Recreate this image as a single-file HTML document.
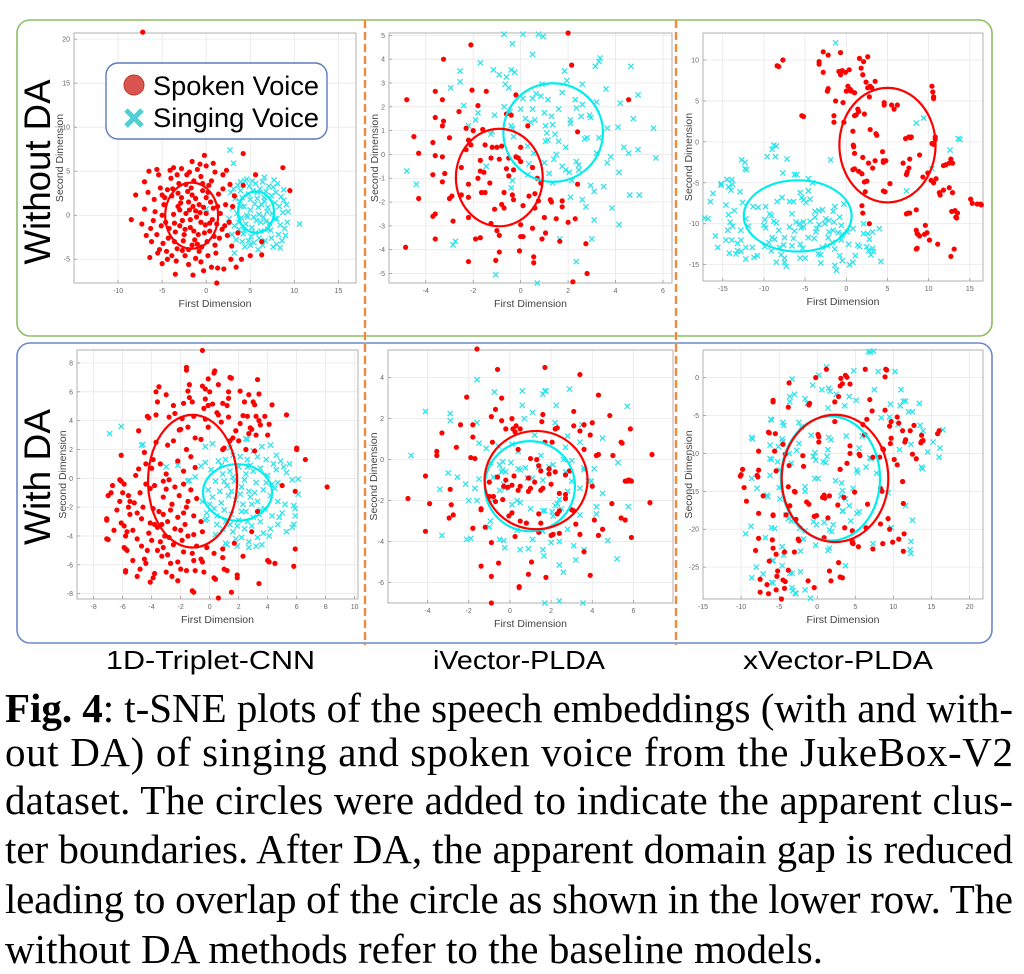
<!DOCTYPE html>
<html><head><meta charset="utf-8"><style>
html,body{margin:0;padding:0;background:#fff;}
svg{display:block;}
</style></head><body>
<svg id="fig" width="1024" height="974" viewBox="0 0 1024 974" xmlns="http://www.w3.org/2000/svg">
<rect x="0" y="0" width="1024" height="974" fill="#fff"/>
<rect x="17" y="20" width="975" height="316" rx="13" fill="none" stroke="#8cc063" stroke-width="1.6"/>
<rect x="17" y="343" width="975" height="300" rx="13" fill="none" stroke="#6b88c8" stroke-width="1.6"/>
<line x1="365" y1="20" x2="365" y2="645" stroke="#f08a3c" stroke-width="2.4" stroke-dasharray="8,4"/>
<line x1="676" y1="20" x2="676" y2="645" stroke="#f08a3c" stroke-width="2.4" stroke-dasharray="8,4"/>
<g id="panels"></g>
<text transform="translate(50,172) rotate(-90)" text-anchor="middle" font-family="'Liberation Sans', sans-serif" font-size="37" textLength="185" lengthAdjust="spacingAndGlyphs" fill="#000">Without DA</text>
<text transform="translate(50,477) rotate(-90)" text-anchor="middle" font-family="'Liberation Sans', sans-serif" font-size="37" textLength="136" lengthAdjust="spacingAndGlyphs" fill="#000">With DA</text>
<g id="legend">
<rect x="106" y="63" width="221" height="76" rx="12" fill="#fff" fill-opacity="0.85" stroke="#5b7bbd" stroke-width="1.4"/>
<circle cx="134" cy="85" r="10" fill="#d9534f" stroke="#c0392b" stroke-width="1"/>
<path d="M126,110 L142,126 M142,110 L126,126" stroke="#4fd0d6" stroke-width="5"/>
<text x="153" y="95" font-family="'Liberation Sans', sans-serif" font-size="27" textLength="166" lengthAdjust="spacingAndGlyphs">Spoken Voice</text>
<text x="153" y="127" font-family="'Liberation Sans', sans-serif" font-size="27" textLength="166" lengthAdjust="spacingAndGlyphs">Singing Voice</text>
</g>
<g font-family="'Liberation Sans', sans-serif" font-size="26" fill="#000">
<text x="106" y="669" textLength="209" lengthAdjust="spacingAndGlyphs">1D-Triplet-CNN</text>
<text x="433" y="669" textLength="172" lengthAdjust="spacingAndGlyphs">iVector-PLDA</text>
<text x="743" y="669" textLength="190" lengthAdjust="spacingAndGlyphs">xVector-PLDA</text>
</g>
<g font-family="'Liberation Serif', 'Times New Roman', serif" font-size="41" fill="#000">
<text x="5" y="722" textLength="1008" lengthAdjust="spacing"><tspan font-weight="bold">Fig. 4</tspan>: t-SNE plots of the speech embeddings (with and with-</text>
<text x="5" y="766" textLength="1008" lengthAdjust="spacing">out DA) of singing and spoken voice from the JukeBox-V2</text>
<text x="5" y="814" textLength="1008" lengthAdjust="spacing">dataset. The circles were added to indicate the apparent clus-</text>
<text x="5" y="863" textLength="1008" lengthAdjust="spacing">ter boundaries. After DA, the apparent domain gap is reduced</text>
<text x="5" y="913" textLength="1008" lengthAdjust="spacing">leading to overlap of the circle as shown in the lower row. The</text>
<text x="5" y="963" textLength="818" lengthAdjust="spacing">without DA methods refer to the baseline models.</text>
</g>
</svg>
<script>
// ---------- data ----------
const aSpoken=[[-7.2,20.8],[-8.5,-0.5],[-8,2.3],[-7,0.7],[-7,3.8],[-6.5,5],[-6.6,2.6],[-6.3,-1.5],[-6.2,-3],[-6.4,-4.8],[-5.5,-4.3],[-5,-5.5],[-3.5,-6.7],[-1.5,-6.8],[-0.3,-6.3],[1.2,-7.7],[1.3,-6],[2,-6.1],[3.4,-5.9],[4,-5],[5,-4.6],[6.3,-4.5],[6.3,-3],[4.2,7],[8.7,5.4],[9.5,2.8],[2.4,-2.3],[2.7,3.5],[1.9,4.6],[-0.2,6.8],[-1.6,6.1],[0,5.6],[-3.7,5.4],[-5.2,3.1],[-4.8,1.2],[-4.6,-0.8],[-4.3,-2.6],[-4,4.2],[-3.9,2.2],[-3.7,0.1],[-3.5,-1.9],[-3.3,-3.8],[-3.1,3.6],[-2.9,1.4],[-2.7,-0.6],[-2.6,-2.9],[-2.4,-4.6],[-2.2,4.6],[-2.1,2.7],[-1.9,0.6],[-1.8,-1.4],[-1.6,-3.4],[-1.4,3.9],[-1.2,1.9],[-1.1,-0.2],[-0.9,-2.2],[-0.8,-4.1],[-0.6,4.4],[-0.4,2.8],[-0.3,0.9],[-0.1,-1.1],[0.1,-3.0],[0.3,3.4],[0.5,1.5],[0.7,-0.5],[0.9,-2.4],[1.1,-4.3],[1.4,2.4],[1.6,0.2],[1.8,-1.6],[-5.6,-2.2],[-5.8,0.4],[-5.4,4.6],[-4.5,-4.1],[-3.4,-5.2],[-2,-5.6],[-0.6,-5.3],[0.6,-5.9],[-4.1,5.1],[-2.8,5.3],[-1,5.2],[1,4.9],[2.2,1.2],[2.6,-0.8],[2.9,-3.5],[3.2,2.2],[-3.2,2.5],[-2.4,-1.6],[-1.5,1],[-0.5,-3.6],[0.4,-1.8],[-4.9,-3.2],[-5.9,1.8],[-3.0,0.6],[-1.3,-2.8],[0.0,2.0],[-2.0,-3.9],[-4.4,2.9],[-3.6,-0.9],[-2.3,0.2],[-0.7,0.3],[1.2,-1.0],[-5.1,-1.2],[-1.7,3.1],[0.2,-4.6],
[-5.0,0.0],[-4.7,2.0],[-4.2,-1.5],[-3.8,3.0],[-3.6,-3.0],[-3.2,1.0],[-3.0,-1.2],[-2.8,2.0],[-2.5,-2.2],[-2.3,3.5],[-2.0,1.5],[-1.8,-0.5],[-1.6,2.3],[-1.4,-1.8],[-1.2,0.5],[-1.0,-3.3],[-0.8,1.2],[-0.6,-0.8],[-0.4,3.6],[-0.2,-2.0],[0.0,0.2],[0.2,2.6],[0.4,-0.9],[0.6,3.9],[0.8,0.8],[1.0,-3.4],[1.3,1.0],[1.5,-2.6],[1.9,3.0],[2.1,-1.2],[-4.4,-5.0],[-5.3,-3.9],[-6.0,-0.6],[-5.0,2.3],[-3.3,4.6],[-1.9,4.9],[-0.7,5.8],[0.8,5.9],[2.3,5.1],[2.8,-5.0],[-1.2,-4.9],[-2.7,-4.0],[-3.9,-4.6],[3.6,-2.0],[3.0,1.0],[-6.8,-2.3],[-7.3,-1.0],[-5.6,5.2],[4.2,3.4],[5.6,4.6]];
const aSinging=[[2.7,7.4],[3.1,5.9],[10.6,-1],[3.2,-4.3],[8.4,-3.7],[0,0.7],[2.8,2.6],[3.0,0.8],[3.2,-1.2],[3.4,-2.8],[3.6,3.4],[3.8,1.6],[4.0,-0.3],[4.2,-2.1],[4.4,-3.6],[4.6,4.1],[4.8,2.4],[5.0,0.6],[5.2,-1.4],[5.4,-3.1],[5.6,3.6],[5.8,1.9],[6.0,0.1],[6.2,-1.8],[6.4,-3.4],[6.6,4.3],[6.8,2.7],[7.0,0.9],[7.2,-0.9],[7.4,-2.6],[7.6,3.2],[7.8,1.4],[8.0,-0.4],[8.2,-2.2],[8.5,2.1],[8.7,0.3],[8.9,-1.5],[9.1,1.2],[9.2,-0.8],[4.3,1.0],[5.3,2.8],[6.3,1.2],[7.3,-1.7],[5.1,-2.4],[6.7,-2.9],[4.9,3.3],[3.5,0.2],[6.1,3.0],[7.9,2.6],[8.4,-1.1],[5.7,-0.6],[4.5,-1.0],[6.9,0.4],[7.7,4.0],[3.9,2.8],[2.6,-0.4],[5.9,-3.9],[8.1,3.6],[9.0,-2.3],[4.1,-3.0],[6.5,-0.2],[5.5,1.3],[4.7,-0.2],[6.6,2.0],[7.5,0.2],[5.0,-3.4],[3.7,-1.6],[8.8,1.7],[6.0,-2.6],[4.4,3.9],
[3.3,1.9],[3.7,-0.8],[4.1,2.0],[4.6,0.0],[5.0,1.8],[5.4,-0.2],[5.8,2.6],[6.2,-0.8],[6.6,1.6],[7.0,-1.6],[7.4,2.2],[7.8,-0.4],[8.3,1.0],[8.6,-2.9],[3.9,3.8],[4.8,-2.9],[5.6,-2.0],[6.4,3.8],[7.1,3.3],[8.0,-3.3],[2.9,-2.2],[3.1,3.0],[9.3,0.4],[7.6,-3.6],[4.3,-1.7],[5.9,0.9],[6.8,-0.7],[5.2,3.9],[4.0,1.0],[8.8,2.9]];
const bSpoken=[[-4.8,2.3],[-4.5,0.75],[-4.3,0.05],[-4.3,-1.85],[-4.85,-3.9],[-3.6,2.65],[-3.6,1.55],[-3.25,4.0],[-3.3,2.3],[-3.3,1.2],[-3.25,1.4],[-3.0,0.7],[-3.7,0.5],[-3.6,-0.05],[-3.3,-0.1],[-3.7,-0.85],[-3.2,-0.8],[-3.3,-1.15],[-2.9,-1.75],[-3.0,-1.85],[-3.6,-2.5],[-3.7,-2.6],[-2.85,-2.8],[-3.6,-3.55],[-2.6,1.8],[-2.1,4.6],[-2.05,2.7],[-1.45,2.65],[-1.8,2.05],[-2.3,1.1],[-2.0,1.0],[-2.2,0.6],[-2.3,0.2],[-2.1,0.4],[-2.5,-0.55],[-2.2,-1.25],[-2.5,-1.7],[-2.2,-1.8],[-2.2,-2.65],[-1.9,-3.55],[-1.7,-3.5],[-2.2,-4.5],[-1.6,1.05],[-1.5,0.4],[-1.7,-0.25],[-1.7,-0.7],[-1.55,-0.75],[-1.8,-1.0],[-1.65,-1.6],[-1.5,-1.6],[-1.3,-1.2],[-1.25,-0.15],[-1.2,0.3],[-1.0,0.3],[-0.9,-0.2],[-0.8,0.35],[-1.1,-2.3],[-1.25,-2.9],[-1.0,-3.2],[-0.9,-3.4],[-1.05,-4.45],[-0.9,-4.1],[-0.6,1.7],[-0.4,1.65],[-0.5,-0.15],[-0.6,-0.6],[-0.5,-0.9],[-0.7,-1.6],[-0.8,-2.1],[-0.7,-2.25],[-0.35,-1.7],[-0.3,-1.9],[-0.3,-0.65],[-0.2,-0.1],[-0.1,-0.15],[-0.2,2.5],[0.0,-0.3],[0.0,0.3],[0.1,-2.15],[0.0,-2.95],[0.0,-3.45],[0.1,-3.45],[-0.05,-4.05],[0.55,-4.3],[0.55,-4.55],[0.5,-3.1],[0.6,-1.65],[0.35,-1.75],[0.6,-2.25],[0.3,1.2],[0.5,-0.55],[0.7,-1.0],[0.75,-1.95],[0.85,-1.2],[1.0,-2.65],[0.9,-3.55],[1.05,-3.3],[1.25,-1.9],[1.3,-2.0],[1.5,-2.7],[1.65,-3.65],[1.75,-1.95],[1.75,-2.2],[2.0,-2.85],[2.3,-2.7],[2.4,-1.25],[2.4,0.95],[2.15,3.75],[2.0,5.1],[2.75,-3.75],[2.8,-5.0],[2.2,-5.35],[4.55,2.3]];
const bSinging=[[-4.8,-0.7],[-4.4,-1.25],[-2.95,2.8],[-2.55,3.5],[-2.55,3.05],[-2.4,2.05],[-2.75,-3.65],[-2.85,-3.8],[-2.2,1.2],[-1.9,1.45],[-1.7,3.85],[-1.8,1.75],[-1.15,3.55],[-1.25,0.85],[-1.2,0.95],[-1.1,1.65],[-1.45,-0.5],[-1.05,-5.05],[-0.9,3.35],[-0.7,2.0],[-0.6,3.25],[-0.65,2.95],[-0.5,2.8],[-0.4,3.55],[-0.35,4.65],[-0.25,3.45],[-0.45,1.8],[-0.4,1.2],[-0.35,1.1],[-0.3,0.75],[-0.35,-1.1],[-0.4,-1.4],[-0.7,5.05],[0.1,5.05],[0.0,1.9],[0.1,2.35],[0.2,1.5],[0.3,0.35],[0.35,-0.4],[0.3,-0.85],[0.5,4.2],[0.5,2.35],[0.5,1.9],[0.6,1.45],[0.4,1.35],[0.55,0.05],[0.65,2.55],[0.75,5.05],[0.95,4.95],[0.85,2.45],[0.7,-5.4],[0.9,2.95],[1.0,1.75],[1.05,1.2],[1.15,2.3],[1.1,0.9],[1.05,0.55],[1.15,0.6],[1.0,-0.35],[1.2,-0.8],[1.3,1.6],[1.35,1.25],[1.45,0.85],[1.4,-0.2],[1.5,0.0],[1.35,-1.2],[1.6,1.9],[1.6,0.55],[1.75,2.6],[1.85,3.5],[1.95,3.1],[1.75,-0.5],[1.9,0.3],[1.9,-0.65],[2.1,1.45],[2.1,1.3],[2.05,-0.75],[2.15,-1.1],[2.3,2.3],[2.35,1.95],[2.35,-0.3],[2.45,-0.45],[2.45,-0.65],[2.6,2.95],[2.6,2.1],[2.55,1.6],[2.7,0.65],[2.8,0.7],[2.9,1.65],[2.95,1.55],[2.95,-1.3],[3.1,-1.55],[3.3,3.9],[3.15,3.7],[3.2,2.2],[3.35,4.05],[3.2,0.05],[3.3,0.7],[3.5,-1.35],[3.6,2.75],[3.65,1.1],[3.65,-0.35],[3.8,-0.1],[3.85,-2.25],[3.1,-2.75],[3.0,-3.55],[2.75,-2.2],[2.35,-4.5],[2.1,-1.8],[2.6,-1.9],[4.1,1.15],[4.2,2.15],[4.15,-0.75],[4.15,-2.95],[4.35,0.3],[4.55,0.05],[4.65,3.7],[4.75,1.5],[4.6,-1.7],[4.95,2.5],[4.95,0.2],[5.0,-1.7],[5.6,1.1],[5.7,-0.15],[1.65,-3.55]];
const cSpoken=[[-7.7,10],[-8.2,9.2],[-8.4,9.3],[-5.4,3.2],[-5.2,3.1],[-3.3,9.8],[-3.3,9.5],[-2.8,11],[-2.8,8.5],[-2.2,10.6],[-2.3,6.2],[-2.2,6.5],[-1.5,3.2],[-1.5,2.4],[-1.3,5],[-0.9,8.6],[-0.7,8.2],[-0.7,10.9],[-0.5,8.7],[-0.4,4.8],[-0.3,2.4],[-0.1,8.5],[0.0,6.2],[0.2,6.8],[0.35,8.8],[0.4,6.3],[0.5,6.4],[0.6,6.2],[1.0,6.0],[1.0,3.2],[1.2,3.3],[0.8,1.3],[0.85,-0.4],[0.9,-0.6],[1.0,-1.4],[1.4,4.0],[1.5,3.7],[1.6,10.2],[1.8,9.0],[2.0,8.2],[2.1,9.8],[2.2,3.4],[2.4,7.3],[2.6,10.4],[2.6,6.6],[2.8,5.5],[2.9,6.8],[3.1,6.6],[3.5,7.4],[2.9,1.5],[2.7,-2.6],[2.0,-1.9],[1.9,-3.9],[1.5,-3.6],[1.0,-3.3],[0.8,-3.4],[2.2,-4.9],[2.5,-4.8],[2.3,-6.1],[1.9,-7.8],[2.0,-8.7],[2.8,-10],[3.2,-3.2],[3.6,1.0],[3.7,0.8],[3.5,-2.3],[4.4,-1.2],[4.5,-2.3],[4.5,-2.5],[4.8,-2.3],[4.6,4.5],[4.6,4.8],[4.5,-6.0],[4.7,-6.1],[5.3,-5.1],[5.5,4.5],[5.8,4.0],[6.2,4.5],[6.9,-2.6],[7.2,0.4],[7.3,-4.0],[7.4,-3.7],[7.6,-3.2],[7.6,0.6],[7.8,0.5],[7.9,0.6],[7.7,-2.1],[7.3,-8.8],[7.5,-8.7],[7.7,-8.7],[8.5,-8.3],[8.5,-10.8],[8.6,-11.2],[8.7,-11.3],[8.9,-11.5],[8.6,-13.0],[8.5,-13.1],[8.9,-1.6],[9.3,-4.3],[9.6,-10.2],[9.5,-11.3],[9.8,-11.1],[10.1,-12.0],[9.9,-3.8],[10.3,-4.7],[10.4,-0.2],[10.6,-0.3],[10.4,6.8],[10.5,6.1],[10.6,5.5],[10.6,5.3],[10.8,0.3],[10.8,0.6],[10.9,-4.5],[10.6,-5.0],[11.1,-12.5],[11.3,-6.2],[11.4,-6.5],[11.8,-5.9],[11.8,-2.9],[12.1,-2.8],[12.5,-2.6],[12.7,-2.1],[12.9,-2.6],[12.5,-5.6],[12.9,-6.2],[12.8,-8.5],[13.2,-8.4],[13.5,-8.7],[13.3,-9.2],[13.4,-9.3],[13.1,-13.1],[12.7,-14],[15.1,-7.0],[15.3,-7.5],[15.9,-7.6],[16.3,-7.6],[16.4,-7.7]];
const cSinging=[[-1.3,12.1],[-8.8,-0.4],[-8.5,-0.5],[-9,-0.9],[-9.6,-1.8],[-8.6,-1.8],[-7.2,-2.1],[-12.7,-2.2],[-12.3,-2.5],[-12.3,-3.3],[-12.1,-3.4],[-15.2,-5.1],[-15.2,-5.3],[-14.5,-4.6],[-13.9,-4.6],[-13.8,-5.2],[-14.3,-5.5],[-14.0,-5.9],[-12.9,-6.1],[-16.2,-6.3],[-16.5,-7.3],[-14.6,-7.7],[-12.6,-7.4],[-13.6,-8.4],[-14.3,-8.9],[-17.2,-9.3],[-16.8,-9.4],[-14.1,-9.8],[-13.8,-10.3],[-12.2,-9.4],[-11.3,-7.9],[-10.7,-8.0],[-9.8,-7.9],[-9.9,-9.5],[-9.3,-8.8],[-10.0,-10.2],[-9.8,-10.5],[-11.9,-10.3],[-12.8,-10.8],[-14.4,-10.8],[-13.9,-12],[-14.6,-12],[-15.9,-11.5],[-15.6,-12.9],[-12.8,-12.0],[-13.2,-12.4],[-12.2,-12.9],[-11.4,-12.9],[-10.8,-13.9],[-11.2,-14.1],[-12.2,-14.3],[-12.8,-13.4],[-13.2,-13.3],[-14.2,-13.6],[-13.4,-13.7],[-9.9,-12.8],[-9.4,-12.3],[-8.7,-11.9],[-9.0,-11.7],[-9.1,-13.3],[-8.1,-12.9],[-7.9,-13.8],[-8.5,-14.7],[-7.5,-14.2],[-7.3,-15.2],[-7.5,-14.7],[-8.2,-10.8],[-8.8,-9.7],[-8.5,-9.9],[-9.1,-9.0],[-8.4,-7.3],[-7.8,-6.8],[-7.7,-3.8],[-6.3,-4.0],[-6.0,-4.0],[-6.9,-7.3],[-6.4,-7.3],[-5.6,-6.2],[-5.4,-6.8],[-4.6,-6.0],[-4.1,-5.0],[-4.6,-4.5],[-5.2,-7.1],[-4.9,-7.4],[-4.4,-7.0],[-6.6,-8.8],[-6.1,-9.8],[-5.7,-10.0],[-5.5,-10.5],[-5.2,-9.8],[-5.2,-10.4],[-6.3,-10.9],[-6.9,-10.4],[-6.4,-11.8],[-7.5,-11.7],[-7.6,-12.6],[-6.6,-12.7],[-5.6,-12.5],[-5.3,-13.0],[-5.6,-14.2],[-5.0,-14.2],[-4.6,-11.7],[-3.9,-11.8],[-3.7,-11.0],[-4.4,-9.7],[-3.8,-9.2],[-3.8,-8.5],[-3.3,-8.4],[-2.9,-8.3],[-3.6,-10.6],[-3.3,-10.1],[-2.6,-10.0],[-2.5,-9.4],[-2.1,-9.6],[-2.2,-11.7],[-2.3,-12.7],[-3.4,-13.7],[-3.1,-13.8],[-2.9,-12.9],[-3.1,-14.8],[-2.1,-11.0],[-1.6,-10.8],[-1.6,-8.5],[-1.5,-9.8],[-1.4,-7.9],[-0.8,-9.2],[-0.6,-10.2],[-0.5,-11.3],[-1.0,-11.1],[-0.6,-12.0],[-1.4,-13.1],[-1.7,-12.3],[-0.8,-13.9],[-1.4,-15.1],[-1.2,-15.7],[-0.5,-14.5],[0.1,-11.0],[0.3,-12.5],[0.8,-14.7],[0.4,-15.0],[0.8,-10.6],[1.1,-13.9],[1.4,-12.6],[2.1,-10.0],[2.1,-11.2],[2.6,-11.2],[2.8,-11.9],[2.5,-12.8],[2.7,-13.3],[3.2,-13.0],[3.3,-13.4],[3.0,-13.8],[3.2,-11.0],[4.0,-10.6],[4.2,-14.6],[1.6,-12.8],[-1.9,-2.2],[-0.3,-7.6],[8.5,2.3],[9.4,2.9],[7.3,-6.0],[12.6,-1.0],[13.6,0.4],[13.8,0.3],[10.4,-3.3]];
const dSpoken=[[-0.5,8.87],[-1.6,7.7],[-1.6,7.5],[0.3,7.3],[0.35,7.45],[1.4,7.0],[1.5,6.95],[-1.4,6.5],[-0.5,6.4],[-0.3,6.2],[-0.1,6.9],[0.6,6.5],[1.3,6.0],[2.1,6.05],[3.3,6.85],[3.4,5.85],[-3.5,6.35],[-3.7,6.0],[-1.5,6.05],[-1.4,5.6],[-1.2,5.3],[-0.3,5.5],[-1.8,5.2],[-3.6,5.3],[-2.5,5.05],[-0.1,5.05],[0.2,5.15],[0.9,5.2],[1.3,5.55],[1.2,5.05],[2.4,5.3],[3.0,5.3],[3.1,5.1],[4.3,5.1],[-3.7,4.4],[-2.8,4.25],[-1.9,4.15],[-1.1,4.3],[-0.4,4.85],[0.5,4.55],[0.6,4.4],[1.3,4.25],[2.3,4.35],[2.6,4.3],[3.2,4.3],[3.8,4.3],[3.4,4.0],[3.5,3.7],[2.8,3.5],[2.1,3.8],[1.8,3.3],[4.1,3.75],[5.3,4.4],[-4.3,4.3],[-4.2,4.2],[-2.1,3.35],[-2.0,3.4],[-1.5,3.55],[-0.1,3.55],[0.8,3.9],[2.9,3.4],[4.0,3.0],[2.7,3.1],[3.2,3.0],[1.6,2.8],[-2.9,2.3],[-1.6,2.0],[-0.6,2.7],[-1.0,2.8],[0.9,2.0],[1.0,2.1],[2.5,2.0],[3.1,1.9],[-6.1,1.6],[-3.9,1.3],[-3.4,1.0],[-2.2,1.2],[-1.3,1.5],[-1.0,0.75],[-4.9,0.65],[-4.0,0.7],[-3.0,0.3],[-3.2,-0.2],[-2.4,-0.6],[-1.8,-0.4],[-6.2,-0.1],[-6.1,-0.2],[-5.9,-0.4],[-4.4,-0.4],[-4.1,-0.7],[-3.0,-0.75],[-6.8,-1.0],[-7.0,-1.2],[-6.0,-1.0],[-5.6,-1.2],[-6.2,-1.6],[-5.5,-1.6],[-5.2,-1.7],[-5.6,-2.0],[-3.2,-1.3],[-2.6,-1.8],[-2.1,-1.2],[-1.5,-1.6],[-0.9,-1.4],[-4.6,-2.0],[-3.9,-2.1],[-3.5,-2.3],[-2.7,-2.2],[-2.2,-2.7],[-1.8,-2.4],[-1.1,-2.6],[-6.4,-2.2],[-5.5,-2.5],[-5.0,-2.4],[-7.1,-2.8],[-7.1,-2.9],[-6.1,-3.1],[-5.9,-3.3],[-4.7,-2.8],[-4.1,-3.1],[-3.8,-3.2],[-3.3,-3.2],[-2.9,-3.0],[-2.4,-3.5],[-1.7,-3.2],[-0.5,-3.7],[-5.7,-3.7],[-5.3,-3.6],[-4.2,-3.8],[-3.6,-3.4],[-3.1,-4.0],[-1.5,-4.0],[-1.1,-3.9],[-7.1,-4.2],[-7.0,-4.25],[-5.8,-4.0],[-5.0,-4.2],[-4.0,-4.3],[-3.4,-4.4],[-2.5,-4.6],[-1.9,-4.3],[-0.9,-4.7],[-0.2,-4.8],[-5.9,-4.8],[-5.8,-4.9],[-4.7,-4.7],[-4.3,-5.0],[-3.2,-4.8],[-2.9,-5.3],[-1.8,-5.1],[-1.2,-5.2],[-0.6,-5.6],[-5.7,-5.0],[-4.5,-5.6],[-4.4,-5.9],[-3.3,-5.4],[-2.7,-5.9],[-2.2,-5.8],[-1.1,-5.7],[-0.5,-5.8],[0.9,-5.5],[2.3,-5.4],[4.1,-5.8],[4.5,-5.9],[5.9,-4.9],[5.8,-6.1],[-5.8,-6.4],[-5.8,-6.5],[-4.8,-6.3],[-3.8,-6.6],[-3.9,-6.9],[-3.0,-6.5],[-2.0,-6.3],[-1.6,-6.4],[-1.0,-6.4],[0.3,-6.9],[0.4,-7.0],[1.0,-6.3],[1.2,-6.4],[1.9,-6.7],[1.9,-6.9],[-5.0,-6.8],[-2.2,-7.1],[-1.2,-7.8],[-1.1,-7.9],[0.6,-8.3],[1.5,-7.9],[3.4,-7.3],[6.0,2.1],[6.0,2.0],[6.6,1.3],[5.9,-0.9],[5.0,-0.5],[8.1,-0.6],[3.3,-2.3],[2.9,-3.7],[4.0,-5.7],[1.7,-4.5],[0.9,-4.9],[-3.2,-2.5],
[-4.5,1.8],[-3.7,2.5],[-2.5,2.6],[-1.8,0.5],[-2.8,-0.1],[-3.8,-0.5],[-4.8,-1.0],[-4.4,1.0],[-2.0,-3.6],[-2.8,-4.1],[-3.6,-5.0],[-1.6,-2.0],[-0.6,-3.0],[0.3,-5.2],[-0.4,-6.5],[-2.6,-6.8],[-4.1,-7.2],[1.4,2.6],[2.0,2.6],[-0.3,4.1],[-2.4,4.5],[-3.0,5.8],[2.7,5.8],[0.0,6.0],[-4.9,3.3],[-5.3,-5.7],[-6.6,-3.6],[-6.7,-0.5],[-5.1,0.2],[-1.3,-0.8]];
const dSinging=[[-6.9,3.1],[-6.1,3.6],[-4.7,2.3],[-4.6,2.35],[-3.0,0.8],[-2.2,0.9],[-1.5,-0.2],[-1.4,-0.15],[-1,0.1],[-0.3,2.2],[-0.6,0.85],[-0.3,1.1],[0.6,1.2],[1.1,1.3],[1.6,1.6],[2.1,1.5],[2.6,2.7],[2.5,2.75],[3.6,2.2],[4.2,2.3],[3.3,1.5],[2.6,1.3],[4.6,1.6],[4.9,1.2],[5.1,0.8],[5.3,0.4],[5.7,-0.1],[6.1,-0.05],[4.7,-0.3],[4.5,-0.7],[4.0,0.2],[3.5,0.7],[3.0,0.5],[2.5,0.3],[2.0,0.8],[1.4,0.5],[0.9,0.3],[0.4,-0.2],[-0.1,-0.8],[0.2,-1.3],[0.7,-0.9],[1.2,-0.5],[1.7,-0.2],[2.2,-0.6],[2.7,-0.9],[3.2,-0.3],[3.7,-0.8],[4.2,-1.2],[4.7,-1.6],[5.2,-1.8],[5.8,-1.9],[6.1,-1.1],[5.9,-2.6],[5.8,-3.2],[5.7,-3.4],[5.3,-3.7],[4.7,-3.2],[4.3,-2.6],[3.8,-2.1],[3.3,-1.6],[2.8,-1.3],[2.3,-1.8],[1.8,-1.5],[1.3,-1.2],[0.8,-1.7],[0.3,-2.1],[-0.2,-2.4],[-0.3,-2.9],[-0.2,-2.8],[0.5,-2.6],[1.0,-2.2],[1.5,-2.5],[2.0,-2.9],[2.5,-2.3],[3.0,-2.7],[3.5,-3.0],[3.7,-3.8],[4.2,-3.5],[4.1,-4.0],[3.3,-4.1],[3.2,-4.7],[3.6,-4.6],[2.7,-4.4],[2.2,-4.1],[1.9,-4.7],[1.2,-4.6],[1.1,-4.5],[1.6,-3.7],[0.9,-3.5],[0.4,-3.9],[1.4,-3.2],[2.4,-3.5],[2.9,-3.3],[1.9,-3.3],[3.5,-2.2],[2.1,-1.1],[1.6,0.1],[0.1,0.6],[0.2,2.4],[1.4,2.1],[2.8,0.9],[3.9,1.3],[4.3,-0.4],[2.6,-3.0],[2.9,-1.8],[1.0,-0.2],[-0.5,-1.6],[5.0,-2.4],[4.6,0.6],
[0.8,0.9],[1.5,-0.9],[2.4,-0.1],[3.1,-1.0],[3.9,-0.3],[4.4,1.0],[2.2,-2.3],[3.4,-2.5],[4.8,-2.7],[1.1,-3.0],[0.0,-1.8],[2.6,0.8],[5.5,1.0],[5.9,-2.1],[1.8,-4.2],[3.0,1.9],[0.5,-3.2],[2.7,-4.8]];
const eSpoken=[[-1.6,5.4],[-0.6,4.4],[1.7,4.5],[3.4,4.15],[-2.1,3.05],[-0.4,3.0],[4.3,3.15],[-0.7,2.45],[-0.9,2.1],[-0.4,1.9],[0.1,2.0],[0.3,1.65],[0.5,1.5],[1.6,2.2],[1.55,1.85],[3.1,2.35],[3.1,1.65],[4.85,2.15],[-3.3,1.3],[-2.4,1.7],[-1.8,1.7],[-1.8,1.1],[-0.2,1.5],[0.25,1.35],[0.15,1.5],[2.2,1.5],[2.3,1.55],[3.4,1.4],[3.6,1.7],[3.9,1.2],[4.0,1.8],[-3.55,0.4],[-3.55,0.2],[-2.6,0.6],[-1.9,0.1],[-1.7,0.05],[-0.85,0.85],[0.4,0.5],[1.0,0.05],[1.3,0.0],[1.7,0.85],[2.05,0.85],[3.6,0.5],[5.4,0.85],[5.45,0.8],[5.0,0.2],[4.2,0.2],[4.3,0.25],[6.9,0.25],[5.85,1.5],[-4.1,-0.8],[-0.6,-0.85],[-1.0,-1.1],[-0.2,-1.0],[0.2,-0.8],[0.9,-0.9],[1.4,-0.3],[1.5,-0.55],[2.2,-0.6],[2.9,-0.55],[2.7,-0.75],[1.9,-0.7],[1.9,-0.45],[2.4,-1.65],[1.2,-1.1],[1.0,-1.4],[0.5,-1.3],[-0.3,-1.3],[-0.1,-1.35],[0.1,-1.25],[0.4,-1.5],[1.5,-1.5],[2.0,-1.2],[2.7,-1.7],[1.6,-1.4],[0.9,-1.55],[-1.0,-1.8],[-0.8,-1.8],[-0.35,-1.95],[-0.7,-2.05],[0.1,-2.6],[-0.05,-2.75],[-1.4,-2.45],[1.4,-2.65],[2.4,-2.5],[2.3,-2.65],[0.5,-3.0],[0.8,-3.1],[1.5,-3.1],[2.0,-3.7],[2.1,-3.65],[3.0,-2.45],[3.1,-2.5],[2.7,-1.9],[2.4,-3.6],[1.4,-3.55],[0.25,-3.75],[-0.9,-4.05],[3.2,-3.15],[3.4,-3.65],[3.6,-4.5],[4.0,-1.3],[4.1,-2.95],[4.3,-3.7],[4.5,-3.4],[4.95,-2.15],[5.4,-2.85],[5.6,-2.95],[5.9,-3.8],[5.6,-1.05],[5.7,-1.05],[5.8,-1.0],[5.9,-1.05],[5.75,-1.0],[6.8,-2.1],[-4.95,-1.9],[-3.9,-2.15],[-2.9,-1.45],[-2.85,-2.2],[-2.75,-2.7],[-2.95,-2.85],[-1.8,-3.35],[-1.2,-3.3],[-1.4,-2.4],[-4.1,-3.5],[-1.4,-5.2],[-0.55,-5.05],[1.05,-5.0],[-0.9,-5.7],[0.9,-5.6],[1.75,-5.75],[0.45,-6.2],[0.45,-6.25],[3.9,-5.65],[-0.9,-7.0]];
const eSinging=[[-4.8,0.2],[-4.1,2.35],[-2.9,2.25],[-2.9,1.9],[-3.0,-0.65],[-2.55,-0.85],[-3.4,-1.45],[-3.3,-3.7],[-2.15,-1.2],[-2.0,-2.0],[-2.1,-3.9],[-1.9,-3.85],[-1.7,-1.4],[-1.6,-2.0],[-1.5,-0.95],[-1.5,0.8],[-1.6,1.8],[-1.6,3.9],[-1.15,0.55],[-0.95,-0.15],[-0.8,-0.85],[-0.75,3.3],[-0.8,-1.95],[-0.95,-3.0],[-0.55,0.65],[-0.5,-0.25],[-0.35,-0.1],[-0.35,-0.5],[-0.4,-0.6],[-0.2,-0.6],[-0.3,-1.2],[-0.25,-1.4],[-0.5,-1.5],[-0.3,-3.95],[-0.5,-3.9],[-0.25,-4.3],[0.05,-0.15],[0.1,0.75],[0.4,0.4],[0.5,-0.5],[0.4,-0.45],[0.75,-0.4],[0.85,-0.9],[0.1,-2.2],[0.5,-2.1],[0.35,-2.0],[0.35,-3.45],[0.5,-4.4],[0.6,2.65],[0.6,3.35],[0.7,2.0],[0.9,-4.35],[1.0,-2.4],[1.1,-3.9],[1.1,-0.9],[1.1,2.3],[1.2,1.2],[1.5,0.2],[1.4,-0.35],[1.6,-1.0],[1.6,-4.4],[1.65,-4.7],[1.6,3.2],[1.75,3.35],[1.7,3.35],[1.6,-2.5],[1.7,-2.5],[1.9,-0.35],[1.9,-0.6],[2.0,-4.05],[2.1,-0.25],[2.05,-2.55],[2.1,-2.75],[2.2,-2.25],[2.2,1.8],[2.25,2.65],[2.3,-2.15],[2.5,-2.4],[2.4,-1.95],[2.4,-4.0],[2.4,-5.15],[2.6,-5.5],[2.4,-6.9],[2.6,0.0],[2.7,0.6],[2.8,1.15],[2.7,-0.6],[2.8,-1.55],[2.8,-3.4],[2.9,3.45],[3.0,-0.05],[3.0,-1.05],[3.1,-4.2],[3.2,-4.9],[3.4,-1.4],[3.4,-2.7],[3.4,0.85],[3.5,1.7],[3.6,-0.4],[3.6,-0.5],[3.6,-4.4],[3.8,-1.05],[3.95,-1.05],[4.1,-0.45],[4.2,-2.3],[4.2,-2.65],[4.5,1.05],[4.5,-1.65],[4.75,-3.95],[5.2,-4.85],[5.25,-0.15],[5.7,2.6],[5.75,-2.3],[1.7,-7.0],[3.55,-7.0],[-1.0,-3.3],[1.6,-3.5]];
const fSpoken=[[1.2,1.1],[-0.2,0.0],[3.7,0.3],[3.9,0.05],[6.3,1.1],[9.0,1.1],[9.1,1.0],[8.9,0.1],[3.1,-0.1],[3.3,-0.8],[3.0,-1.1],[4.3,-0.85],[-3.7,-0.7],[-5.8,-3.0],[-5.8,-3.2],[-1.0,-3.4],[-1.1,-3.6],[-3.8,-3.9],[2.3,-3.2],[2.8,-2.5],[6.9,-2.9],[2.3,-5.8],[6.5,-5.5],[7.2,-4.4],[8.9,-4.3],[10.5,-5.2],[-6.4,-7.2],[-6.3,-7.3],[-5.5,-7.4],[-7.7,-9.7],[-5.6,-9.7],[-4.5,-8.8],[-4.2,-10.1],[-3.7,-11.6],[-1.9,-10.3],[-1.8,-11.7],[0.1,-7.5],[0.2,-7.8],[0.2,-8.5],[4.3,-9.0],[4.3,-10.0],[5.5,-10.1],[5.6,-10.3],[6.0,-6.2],[6.2,-7.5],[3.9,-11.3],[3.0,-12.1],[7.3,-10.5],[8.2,-10.5],[8.6,-9.4],[8.7,-9.5],[9.5,-6.4],[9.7,-5.8],[9.7,-8.0],[9.6,-8.7],[10.1,-10.8],[10.5,-11.5],[10.7,-6.0],[11.2,-7.0],[11.5,-8.5],[11.6,-8.2],[12.2,-7.0],[12.7,-6.3],[12.5,-10.1],[13.0,-10.7],[13.7,-7.6],[13.6,-8.6],[13.7,-8.4],[13.9,-8.3],[15.8,-7.4],[16.0,-7.0],[-10.0,-12.8],[-10.1,-13.0],[-9.8,-12.1],[-9.6,-14.5],[-9.3,-16.3],[-7.9,-12.9],[-7.8,-13.1],[-7.7,-12.2],[-7.1,-15.6],[-7.7,-17.9],[-5.4,-12.3],[-5.8,-18.1],[-5.8,-18.2],[-4.1,-18.1],[-3.8,-14.4],[-3.6,-16.9],[-3.0,-15.0],[-2.9,-15.1],[-2.8,-18.7],[-1.4,-16.4],[-1.1,-16.7],[-0.4,-18.3],[-0.1,-18.2],[0.7,-15.8],[0.9,-15.5],[1.0,-15.9],[1.6,-15.6],[2.7,-16.8],[3.0,-12.1],[3.5,-15.8],[4.9,-15.1],[3.6,-19.8],[4.6,-20.2],[6.6,-16.7],[6.4,-19.8],[8.3,-14.6],[8.4,-14.9],[8.3,-19.3],[9.3,-18.6],[9.5,-20.0],[11.2,-13.7],[11.3,-16.6],[11.4,-20.6],[10.7,-21.3],[9.9,-21.7],[8.6,-21.9],[7.3,-22.6],[5.4,-22.3],[4.6,-21.6],[4.7,-21.9],[4.6,-21.8],[11.3,-22.9],[-2.5,-21.3],[-2.4,-21.5],[0.9,-21.1],[-4.3,-23.0],[-3.0,-23.0],[-5.8,-22.5],[-5.9,-21.4],[-5.4,-23.3],[-8.1,-22.8],[-6.3,-24.2],[-5.2,-25.5],[-5.3,-26.2],[-3.8,-25.4],[-4.5,-26.7],[-4.2,-26.9],[-4.3,-27.8],[-6.6,-27.3],[-7.5,-26.6],[-7.5,-28.3],[-6.4,-28.5],[-5.4,-28.0],[-4.7,-29.2],[-1.2,-26.8],[-0.4,-27.7],[1.6,-25.5],[1.8,-26.8],[2.8,-24.4],[3.0,-26.3],[3.3,-26.4],[1.4,-18.5],[8.5,-15.0],[-7.7,-21.2]];
const fSinging=[[1.2,1.4],[0.2,0.3],[-3.3,-0.2],[-3.6,-2.5],[-3.0,-2.2],[-3.6,-3.2],[-1.6,-2.8],[-1.3,-3.4],[0.6,-1.6],[-0.6,-1.0],[1.5,-1.4],[1.7,-1.8],[2.5,-2.2],[4.2,-2.5],[4.8,0.9],[5.1,-3.0],[7.5,-1.6],[8.0,0.8],[10.2,0.8],[11.0,-1.6],[11.3,-3.1],[11.6,-3.1],[9.6,-3.5],[10.9,-3.7],[13.4,-3.4],[12.0,-4.5],[12.5,-4.5],[-6.0,-5.6],[-6.1,-5.5],[-4.5,-5.9],[-4.4,-6.3],[-2.4,-5.9],[-0.8,-7.6],[1.4,-4.0],[3.6,-3.7],[5.9,-7.7],[8.4,-5.3],[9.5,-5.2],[10.6,-6.2],[10.8,-9.5],[12.3,-8.8],[13.5,-6.3],[13.9,-7.0],[14.5,-9.8],[15.2,-8.5],[16.5,-6.9],[16.1,-9.3],[16.0,-10.5],[13.7,-11.8],[13.8,-12.0],[-8.6,-7.9],[-8.5,-8.1],[-6.2,-8.9],[-5.1,-9.1],[-4.6,-8.1],[-4.5,-8.4],[-3.7,-10.0],[-3.4,-11.3],[-2.7,-9.6],[-2.4,-8.7],[-0.5,-10.4],[-0.2,-10.9],[-0.3,-9.9],[1.4,-9.5],[1.3,-10.4],[1.8,-8.2],[3.8,-7.7],[5.5,-9.3],[6.3,-7.7],[7.1,-10.7],[-5.2,-11.1],[-6.2,-10.7],[-6.0,-10.8],[-4.9,-12.2],[-8.6,-13.3],[-7.9,-14.6],[-6.2,-12.9],[-6.6,-15.5],[-6.5,-15.7],[-5.0,-14.5],[-4.9,-16.0],[-4.1,-18.1],[-3.8,-18.6],[-3.4,-18.9],[-1.6,-15.0],[-1.6,-14.4],[-0.3,-13.3],[0.1,-13.3],[0.8,-11.1],[1.1,-11.2],[2.4,-13.6],[3.2,-13.9],[3.3,-14.9],[3.1,-15.6],[3.7,-16.0],[3.4,-17.6],[4.2,-16.9],[4.7,-14.6],[5.2,-12.2],[5.3,-12.5],[6.4,-11.8],[6.9,-10.6],[7.8,-12.6],[9.3,-15.2],[11.6,-16.9],[12.5,-18.8],[4.4,-18.9],[5.2,-17.9],[5.5,-17.7],[-0.5,-19.0],[-0.1,-19.4],[-2.3,-19.9],[-1.6,-20.2],[0.9,-19.1],[1.6,-20.1],[1.9,-20.3],[2.1,-19.4],[-1.8,-21.3],[-0.2,-22.1],[1.4,-22.8],[1.6,-22.5],[3.7,-24.8],[7.3,-21.9],[9.7,-19.8],[12.3,-21.6],[12.2,-22.7],[12.3,-23.2],[-2.2,-22.9],[-4.6,-22.3],[-4.4,-23.4],[-4.6,-24.8],[-5.8,-24.1],[-5.9,-24.2],[-8.0,-25.0],[-9.4,-20.6],[-8.7,-19.6],[-6.0,-19.8],[-5.6,-19.9],[-6.8,-21.1],[-8.6,-26.4],[-7.1,-25.9],[-6.0,-27.0],[-5.8,-27.1],[-3.6,-25.8],[-3.3,-25.8],[-2.2,-25.6],[-3.3,-27.7],[-2.9,-28.4],[-3.2,-28.1],[-1.6,-28.0],[-0.9,-29.1],[-2.8,-28.5],[3.3,-17.6],[1.5,-7.9],[-2.1,-6.5],[7.0,3.4],[7.4,3.5],[6.7,3.4]];
// cluster boundary ellipses [cx, cy, rx, ry] in data units
const aSpokenEllipse=[-1.65,-0.05,3.0,3.75];
const aSingingEllipse=[5.65,0.35,2.05,2.35];
const bSpokenEllipse=[-0.9,-0.97,1.83,2.05];
const bSingingEllipse=[1.37,0.92,2.1,2.07];
const cSpokenEllipse=[5.0,-0.4,5.84,7.0];
const cSingingEllipse=[-5.9,-9.05,6.55,4.35];
const dSpokenEllipse=[-1.18,-0.2,3.07,4.6];
const dSingingEllipse=[1.92,-0.98,2.38,1.96];
const eSpokenEllipse=[1.27,-1.0,2.5,2.4];
const eSingingEllipse=[0.97,-1.3,2.19,2.2];
const fSpokenEllipse=[2.33,-13.3,7.0,8.4];
const fSingingEllipse=[1.74,-13.3,6.5,8.2];
// tick labels
const aXTicks=[-10,-5,0,5,10,15], aYTicks=[-5,0,5,10,15,20];
const bXTicks=[-4,-2,0,2,4,6], bYTicks=[-5,-4,-3,-2,-1,0,1,2,3,4,5];
const cXTicks=[-15,-10,-5,0,5,10,15], cYTicks=[-15,-10,-5,0,5,10];
const dXTicks=[-8,-6,-4,-2,0,2,4,6,8,10], dYTicks=[-8,-6,-4,-2,0,2,4,6,8];
const eXTicks=[-4,-2,0,2,4,6], eYTicks=[-6,-4,-2,0,2,4];
const fXTicks=[-15,-10,-5,0,5,10,15,20], fYTicks=[-25,-20,-15,-10,-5,0];

// ---------- layout ----------
const panels=[
 {id:'a',box:[74,33,356,283],xd:[-15,17],yd:[-7.7,20.7],sp:aSpoken,sg:aSinging,es:aSpokenEllipse,eg:aSingingEllipse,xt:aXTicks,yt:aYTicks},
 {id:'b',box:[389,33,672,283],xd:[-5.55,6.38],yd:[-5.4,5.1],sp:bSpoken,sg:bSinging,es:bSpokenEllipse,eg:bSingingEllipse,xt:bXTicks,yt:bYTicks},
 {id:'c',box:[703,33,983,281],xd:[-17.4,16.6],yd:[-17,13.3],sp:cSpoken,sg:cSinging,es:cSpokenEllipse,eg:cSingingEllipse,xt:cXTicks,yt:cYTicks},
 {id:'d',box:[77,350,358,599],xd:[-9.15,10.23],yd:[-8.37,8.9],sp:dSpoken,sg:dSinging,es:dSpokenEllipse,eg:dSingingEllipse,xt:dXTicks,yt:dYTicks},
 {id:'e',box:[388,350,673,603],xd:[-5.92,7.92],yd:[-7.0,5.35],sp:eSpoken,sg:eSinging,es:eSpokenEllipse,eg:eSingingEllipse,xt:eXTicks,yt:eYTicks},
 {id:'f',box:[703,350,983,599],xd:[-15,21.76],yd:[-29.2,3.64],sp:fSpoken,sg:fSinging,es:fSpokenEllipse,eg:fSingingEllipse,xt:fXTicks,yt:fYTicks}
];
const NS='http://www.w3.org/2000/svg';
function mk(tag,attrs,parent){const e=document.createElementNS(NS,tag);for(const k in attrs)e.setAttribute(k,attrs[k]);parent.appendChild(e);return e;}
const root=document.getElementById('panels');
panels.forEach(p=>{
  const [x0,y0,x1,y1]=p.box;
  const sx=v=>x0+(v-p.xd[0])/(p.xd[1]-p.xd[0])*(x1-x0);
  const sy=v=>y1-(v-p.yd[0])/(p.yd[1]-p.yd[0])*(y1-y0);
  const g=mk('g',{},root);
  
  
  const bg=mk('rect',{x:x0,y:y0,width:x1-x0,height:y1-y0,fill:'#fff'},g);
  
  
  const grid=mk('g',{stroke:'#e8e8e8','stroke-width':0.8},g);
  
  
  const ticks=mk('g',{'font-family':"'Liberation Sans', sans-serif",'font-size':7,fill:'#666'},g);
  
  
  p.xt.forEach(t=>{const X=sx(t);mk('line',{x1:X,y1:y0,x2:X,y2:y1},grid);
    mk('line',{x1:X,y1:y1,x2:X,y2:y1-3,stroke:'#999'},grid);
    const tx=mk('text',{x:X,y:y1+10,'text-anchor':'middle'},ticks);tx.textContent=t;
    
    });
  p.yt.forEach(t=>{const Y=sy(t);mk('line',{x1:x0,y1:Y,x2:x1,y2:Y},grid);
    mk('line',{x1:x0,y1:Y,x2:x0+3,y2:Y,stroke:'#999'},grid);
    const tx=mk('text',{x:x0-4,y:Y+2.5,'text-anchor':'end'},ticks);tx.textContent=t;
    
    });
  const frame=mk('rect',{x:x0,y:y0,width:x1-x0,height:y1-y0,fill:'none',stroke:'#aaa','stroke-width':0.9},g);
  
  
  const xl=mk('text',{x:(x0+x1)/2,y:y1+24,'text-anchor':'middle','font-family':"'Liberation Sans', sans-serif",'font-size':10.5,fill:'#444'},g);
  xl.textContent='First Dimension';
  
  
  const yl=mk('text',{transform:`translate(${x0-11},${(y0+y1)/2}) rotate(-90)`,'text-anchor':'middle','font-family':"'Liberation Sans', sans-serif",'font-size':10.5,fill:'#444'},g);
  yl.textContent='Second Dimension';
  
  
  const sgG=mk('g',{stroke:'#2fe3ec','stroke-width':1.3},g);
  
  
  p.sg.forEach(([vx,vy])=>{const X=sx(vx),Y=sy(vy),r=2.6;
    const m=mk('path',{d:`M${X-r},${Y-r}L${X+r},${Y+r}M${X+r},${Y-r}L${X-r},${Y+r}`},sgG);
    
    });
  const spG=mk('g',{fill:'#ff0000'},g);
  
  
  p.sp.forEach(([vx,vy])=>{
    const c=mk('circle',{cx:sx(vx),cy:sy(vy),r:2.6},spG);
    
    });
  const e1=mk('ellipse',{cx:sx(p.eg[0]),cy:sy(p.eg[1]),rx:Math.abs(sx(p.eg[0]+p.eg[2])-sx(p.eg[0])),ry:Math.abs(sy(p.eg[1]+p.eg[3])-sy(p.eg[1])),fill:'none',stroke:'#00eeee','stroke-width':2.2},g);
  
  
  const e2=mk('ellipse',{cx:sx(p.es[0]),cy:sy(p.es[1]),rx:Math.abs(sx(p.es[0]+p.es[2])-sx(p.es[0])),ry:Math.abs(sy(p.es[1]+p.es[3])-sy(p.es[1])),fill:'none',stroke:'#ff0000','stroke-width':2.2},g);
  
  
});
</script>
</body></html>
